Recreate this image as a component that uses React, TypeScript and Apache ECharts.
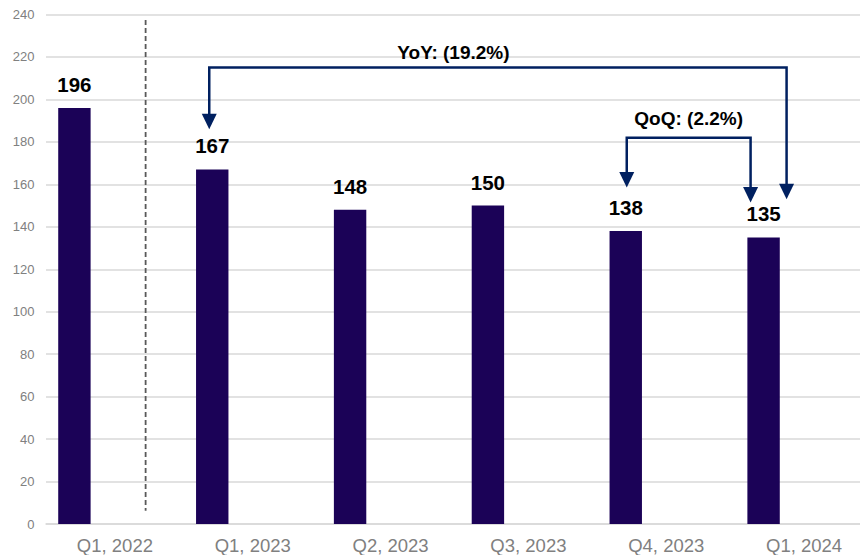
import React, { useEffect, useRef } from "react";
import * as echarts from "echarts";

const categories = ["Q1, 2022", "Q1, 2023", "Q2, 2023", "Q3, 2023", "Q4, 2023", "Q1, 2024"];
const values = [196, 167, 148, 150, 138, 135];
const yMin = 0;
const yMax = 240;
const yInterval = 20;

// Bracket annotations: category indices and value-space levels
const annotations = [
  { text: "YoY: (19.2%)", from: 1, to: 5, level: 215, fromTip: 186, toTip: 153 },
  { text: "QoQ: (2.2%)", from: 4, to: 5, level: 182, fromTip: 158.5, toTip: 151.5 },
];
// Pixel offsets for annotation layout (style, not data)
const annotationLayout = [
  { fromDx: -3, toDx: 23, textDx: -44.5, textDy: -15 },
  { fromDx: 1, toDx: -13, textDx: 0, textDy: -19 },
];

const FONT = "'Liberation Sans', Arial, Helvetica, sans-serif";
const NAVY = "#002060";
const BAR = "#1b0257";

export default function App() {
  const ref = useRef<HTMLDivElement>(null);

  useEffect(() => {
    if (!ref.current) return;
    const chart = echarts.init(ref.current, undefined, { renderer: "svg" });
    chart.setOption({
      animation: false,
      grid: { left: 46, right: 0, top: 14.5, bottom: 30.7, containLabel: false },
      xAxis: {
        type: "category",
        data: categories,
        axisTick: { show: false },
        axisLine: { show: true, lineStyle: { color: "#d9d9d9", width: 1.5 } },
        axisLabel: { color: "#808080", fontSize: 18.5, fontFamily: FONT, margin: 12 },
        splitLine: { show: false },
      },
      yAxis: {
        type: "value",
        min: yMin,
        max: yMax,
        interval: yInterval,
        axisLine: { show: false },
        axisTick: { show: false },
        axisLabel: { color: "#808080", fontSize: 13, fontFamily: FONT, margin: 11.5 },
        splitLine: { lineStyle: { color: "#d9d9d9", width: 1.5 } },
      },
      series: [
        {
          type: "bar",
          data: values,
          barWidth: 32.4,
          barGap: "150%",
          itemStyle: { color: BAR },
          label: {
            show: true,
            position: "top",
            distance: 13,
            color: "#000",
            fontSize: 20.5,
            fontWeight: "bold",
            fontFamily: FONT,
          },
        },
        {
          type: "bar",
          data: values.map(() => null),
          barWidth: 32.4,
          itemStyle: { color: "transparent" },
        },
      ],
    });

    const barX = (i: number) => {
      const c = chart.convertToPixel({ xAxisIndex: 0 }, categories[i]) as number;
      return c - 40.5;
    };
    const py = (v: number) => chart.convertToPixel({ yAxisIndex: 0 }, v) as number;

    const graphics: any[] = [];
    // dashed separator between Q1 2022 and Q1 2023
    const sepX = barX(0) + 71.2;
    graphics.push({
      type: "line",
      shape: { x1: sepX, y1: 20, x2: sepX, y2: 510.7 },
      style: { stroke: "#595959", lineWidth: 1.8, lineDash: [5, 3] },
      silent: true,
    });

    const head = (x: number, tip: number) => ({
      type: "polygon",
      shape: { points: [[x - 7.5, tip - 15.5], [x + 7.5, tip - 15.5], [x, tip]] },
      style: { fill: NAVY },
      silent: true,
    });

    annotations.forEach((a, k) => {
      const lay = annotationLayout[k];
      const x1 = barX(a.from) + lay.fromDx;
      const x2 = barX(a.to) + lay.toDx;
      const yl = py(a.level);
      const t1 = py(a.fromTip);
      const t2 = py(a.toTip);
      graphics.push({
        type: "polyline",
        shape: { points: [[x1, t1 - 14], [x1, yl], [x2, yl], [x2, t2 - 14]] },
        style: { stroke: NAVY, lineWidth: 2.5, fill: "none" },
        silent: true,
      });
      graphics.push(head(x1, t1));
      graphics.push(head(x2, t2));
      graphics.push({
        type: "text",
        x: (x1 + x2) / 2 + lay.textDx,
        y: yl + lay.textDy,
        style: {
          text: a.text,
          fill: "#000",
          fontSize: 19,
          fontWeight: "bold",
          fontFamily: FONT,
          align: "center",
          verticalAlign: "middle",
        },
        silent: true,
      });
    });

    chart.setOption({ graphic: graphics });

    return () => chart.dispose();
  }, []);

  return (
    <div
      style={{
        position: "fixed",
        left: 0,
        top: 0,
        width: 860,
        height: 555,
        overflow: "hidden",
        background: "#fff",
      }}
    >
      <div ref={ref} style={{ width: 873, height: 555 }} />
    </div>
  );
}
